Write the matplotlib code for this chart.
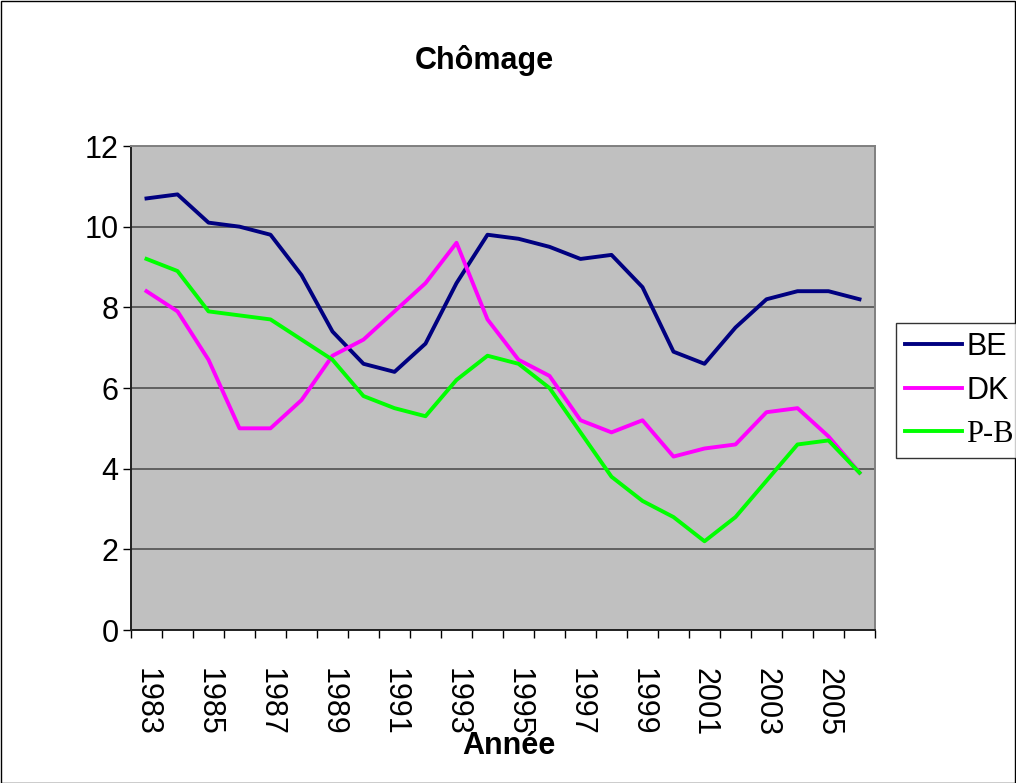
import numpy as np
import matplotlib
matplotlib.use('Agg')
import matplotlib.pyplot as plt
from matplotlib.patches import Rectangle

# Unemployment data
years = list(range(1983, 2007))
be = [10.7, 10.8, 10.1, 10.0, 9.8, 8.8, 7.4, 6.6, 6.4, 7.1, 8.6, 9.8,
      9.7, 9.5, 9.2, 9.3, 8.5, 6.9, 6.6, 7.5, 8.2, 8.4, 8.4, 8.2]
dk = [8.4, 7.9, 6.7, 5.0, 5.0, 5.7, 6.8, 7.2, 7.9, 8.6, 9.6, 7.7,
      6.7, 6.3, 5.2, 4.9, 5.2, 4.3, 4.5, 4.6, 5.4, 5.5, 4.8, 3.9]
pb = [9.2, 8.9, 7.9, 7.8, 7.7, 7.2, 6.7, 5.8, 5.5, 5.3, 6.2, 6.8,
      6.6, 6.0, 4.9, 3.8, 3.2, 2.8, 2.2, 2.8, 3.7, 4.6, 4.7, 3.9]
series_names = ['BE', 'DK', 'P-B']
colors = ['#000080', '#FF00FF', '#00FF00']

plt.rcParams['font.family'] = ['Liberation Sans', 'DejaVu Sans']

W, H = 1016, 783
fig = plt.figure(figsize=(W / 100, H / 100), dpi=100)
ax = fig.add_axes([131 / W, 1 - 630 / H, (875 - 131) / W, (630 - 146) / H])
ax.set_facecolor('#C0C0C0')

x = np.arange(len(years))
lines = []
for vals, c, name in zip([be, dk, pb], colors, series_names):
    ln, = ax.plot(x, vals, color=c, lw=2.8, label=name)
    lines.append(ln)

ax.set_xlim(-0.5, len(years) - 0.5)
ax.set_ylim(0, 12)
ax.set_yticks(np.arange(0, 13, 2))
ax.yaxis.grid(True, color='#606060', lw=1.4)
ax.set_axisbelow(True)
ax.tick_params(axis='y', labelsize=22, length=6, width=1, direction='out', pad=3)

# category boundaries get tick marks, labels sit at category centres
ax.set_xticks(np.arange(-0.5, len(years), 1.0))
ax.set_xticklabels([])
ax.tick_params(axis='x', which='major', length=6, width=1, direction='out')
ax.set_xticks(x[::2], minor=True)
ax.set_xticklabels([str(y) for y in years[::2]], minor=True, rotation=-90,
                   fontsize=22)
ax.tick_params(axis='x', which='minor', length=0, pad=27)

for side in ['top', 'right']:
    ax.spines[side].set_color('#808080')
    ax.spines[side].set_linewidth(1.4)
for side in ['left', 'bottom']:
    ax.spines[side].set_color('#202020')
    ax.spines[side].set_linewidth(1.4)

fig.text(484 / W, 1 - 60 / H, 'Chômage', ha='center', va='center',
         fontsize=22, fontweight='bold')
fig.text(509 / W, 1 - 746 / H, 'Année', ha='center', va='center',
         fontsize=22, fontweight='bold')

leg = fig.legend(handles=lines, loc='upper left',
                 bbox_to_anchor=(896 / W, 1 - 323 / H), fontsize=22,
                 frameon=True, fancybox=False, handlelength=1.85,
                 handletextpad=0.15, borderpad=0.3, labelspacing=0.45,
                 borderaxespad=0)
leg.get_frame().set_edgecolor('black')
leg.get_frame().set_linewidth(1)
leg.get_texts()[2].set_fontfamily(['Liberation Serif', 'DejaVu Serif'])

fig.patches.append(Rectangle((0.5 / W, 0.5 / H), 1 - 1.5 / W, 1 - 1.5 / H,
                             transform=fig.transFigure, fill=False,
                             edgecolor='black', lw=1))

fig.savefig('out.png', dpi=100)
